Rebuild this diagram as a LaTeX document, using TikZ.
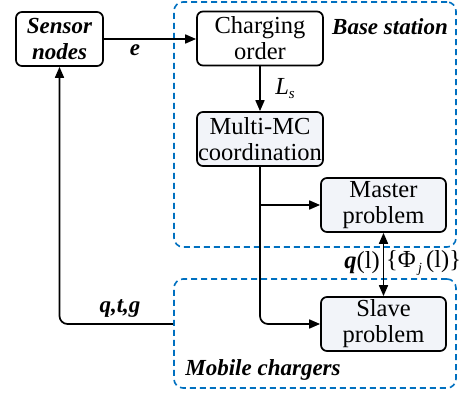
\documentclass[tikz,border=0pt]{standalone}
\usepackage{fontspec}
\setmainfont{Liberation Serif}
\usetikzlibrary{arrows.meta}
\definecolor{dashblue}{RGB}{0,112,192}
\definecolor{boxfill}{RGB}{242,244,249}
\begin{document}
\begin{tikzpicture}[x=1pt,y=-1pt,
  every node/.style={font=\fontsize{24.5}{26}\selectfont},
  blk/.style={draw, line width=1.7pt, rounded corners=6pt, minimum width=#1, minimum height=54pt, align=center, inner sep=0pt},
  lbl/.style={inner sep=0pt, font=\fontsize{23}{26}\selectfont\bfseries\itshape},
  conn/.style={line width=1.7pt, -{Triangle[length=11pt,width=9pt]}},
  region/.style={draw=dashblue, dash pattern=on 6pt off 4pt, line width=1.6pt, rounded corners=9pt, inner sep=0pt}]
\useasboundingbox (0,0) rectangle (464,393);
% regions
\node[region, minimum width=282pt, minimum height=245pt] (base) at (315,124.5) {};
\node[region, minimum width=282pt, minimum height=109pt] (mobile) at (315,333.5) {};
% blocks
\node[blk=87pt, fill=white, font=\fontsize{23}{26}\selectfont\bfseries\itshape] (sensor) at (59.5,39) {Sensor\\nodes};
\node[blk=126pt, fill=white] (charge) at (260,38.5) {Charging\\order};
\node[blk=126pt, fill=boxfill] (multi) at (260,139) {Multi-MC\\coordination};
\node[blk=125pt, fill=boxfill] (master) at (383.5,205) {Master\\problem};
\node[blk=125pt, fill=boxfill] (slave) at (383.5,324) {Slave\\problem};
% labels
\node[lbl] (lbase) at (390,27) {Base station};
\node[lbl] (lmobile) at (263,370) {Mobile chargers};
\node[lbl] (le) at (135,50) {e};
\node[inner sep=0pt] (lls) at (285,89) {\itshape L\raisebox{-0.35ex}{\fontsize{15}{15}\selectfont\itshape s}};
\node[lbl] (lqtg) at (120,308) {q,t,g};
\node[inner sep=0pt, anchor=east] (lq) at (380,263) {{\bfseries\itshape q}(l)};
\node[inner sep=0pt, anchor=west] (lphi) at (386,263) {\{Φ\raisebox{-0.45ex}{\fontsize{14}{14}\selectfont\itshape\,j}\,(l)\}};
% connectors
\draw[conn] (sensor.east) -- (sensor.east -| charge.west);
\draw[conn] (charge) -- (multi);
\draw[conn, rounded corners=8pt] (multi.south) |- (slave.west);
\draw[conn] (multi.south |- master.west) -- (master.west);
\draw[line width=1.7pt, {Triangle[length=11pt,width=9pt]}-{Triangle[length=11pt,width=9pt]}] (master.south) -- (slave.north);
\draw[conn, rounded corners=8pt] (mobile.west |- slave.west) -| (sensor.south);
\end{tikzpicture}
\end{document}
